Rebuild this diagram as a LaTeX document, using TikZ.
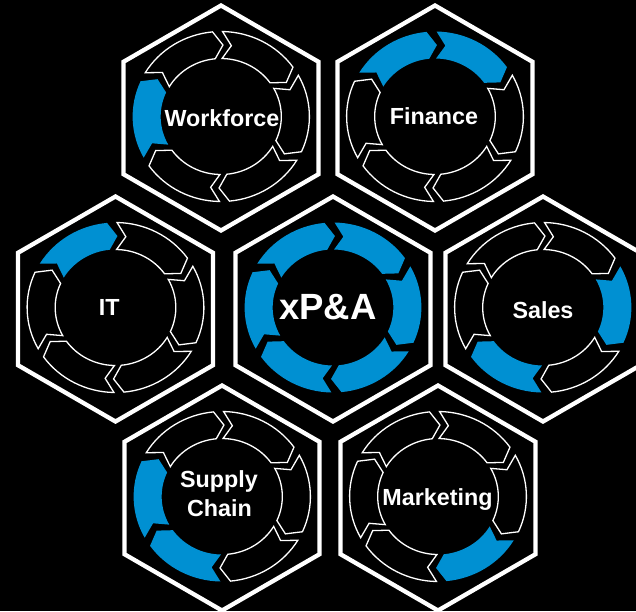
\documentclass[tikz,border=0pt]{standalone}
\usepackage{fontspec}
\setmainfont{Liberation Sans}
\definecolor{segblue}{RGB}{0,144,210}
\tikzset{
  hexline/.style={draw=white, line width=4.3pt, fill=black, line join=miter},
  segW/.style={draw=white, line width=1.3pt, fill=black, line join=miter},
  segB/.style={fill=segblue},
  lbl/.style={text=white, font=\fontsize{23.3}{28}\selectfont\bfseries, inner sep=0pt, anchor=base},
  biglbl/.style={lbl, font=\fontsize{36.5}{40}\selectfont\bfseries},
}
\newcommand\segpath[2]{%
  \path[#1] ({#2+1}:85) arc[start angle={#2+1}, end angle={#2+54.5}, radius=85]
    -- ({#2+61.5}:71.5) -- ({#2+54.5}:58)
    arc[start angle={#2+54.5}, end angle={#2+1}, radius=58]
    -- ({#2+8}:71.5) -- cycle;}
\newcommand\hexcell[8]{%
  \begin{scope}[shift={(#1,#2)}]
    \draw[hexline] (270:112.5) -- (330:112.5) -- (30:112.5) -- (90:112.5)
      -- (150:112.5) -- (210:112.5) -- cycle;
    \begin{scope}[yshift=1.5pt, xscale=1.04]
      \segpath{#3}{270}\segpath{#4}{330}\segpath{#5}{30}
      \segpath{#6}{90}\segpath{#7}{150}\segpath{#8}{210}
    \end{scope}
  \end{scope}}
\begin{document}
\begin{tikzpicture}[x=1pt, y=-1pt]
  \useasboundingbox (0,0) rectangle (636,611);
  \fill[black] (0,0) rectangle (636,611);
  % row 1
  \hexcell{221}{118}{segW}{segW}{segW}{segW}{segB}{segW}
  \hexcell{435}{118}{segB}{segW}{segW}{segW}{segW}{segB}
  % row 2
  \hexcell{115.5}{309}{segW}{segW}{segW}{segW}{segW}{segB}
  \hexcell{333}{309}{segB}{segB}{segB}{segB}{segB}{segB}
  \hexcell{543}{309}{segW}{segB}{segW}{segB}{segW}{segW}
  % row 3
  \hexcell{222}{498}{segW}{segW}{segW}{segB}{segB}{segW}
  \hexcell{438}{498}{segW}{segW}{segB}{segW}{segW}{segW}
  % labels
  \node[lbl] (wf) at (222,126.5) {Workforce};
  \node[lbl] (fin) at (434,124) {Finance};
  \node[lbl] (it) at (109.3,315) {IT};
  \node[biglbl] (xpa) at (328,319) {xP\&A};
  \node[lbl] (sal) at (543,318) {Sales};
  \node[lbl] (sc1) at (219,487) {Supply};
  \node[lbl] (sc2) at (219.5,516) {Chain};
  \node[lbl] (mkt) at (437.5,505) {Marketing};
\end{tikzpicture}
\end{document}
